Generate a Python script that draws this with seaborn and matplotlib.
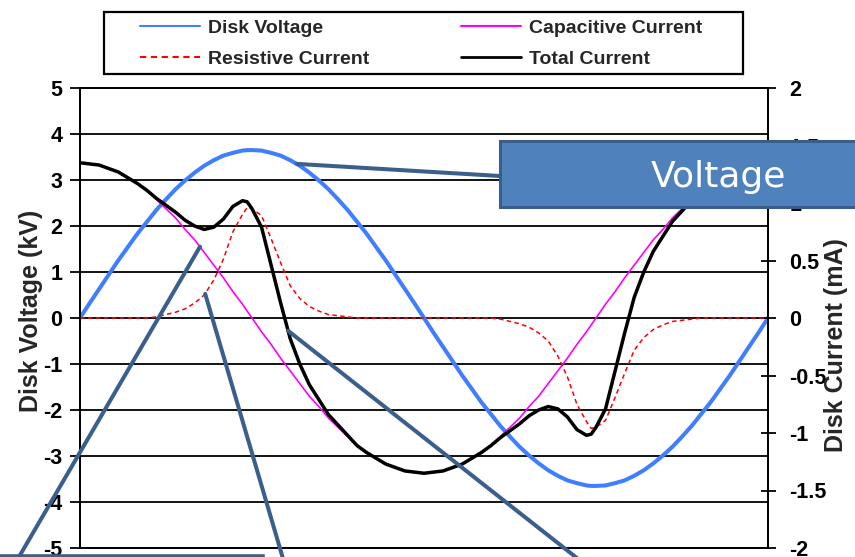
import matplotlib
matplotlib.use("Agg")
import matplotlib.pyplot as plt
import seaborn as sns
import pandas as pd
from matplotlib.patches import Rectangle, ConnectionPatch
from matplotlib.ticker import FixedLocator, FuncFormatter

# ---------------- data ----------------
phase_deg = [0, 5, 10, 15, 20, 25, 30, 35, 40, 45, 50, 55, 60, 65, 70, 75, 80, 85, 87.5,
             90, 95, 100, 105, 110, 115, 120, 125, 130, 135, 140, 145, 150, 155, 160, 165, 170, 175, 180,
             185, 190, 195, 200, 205, 210, 215, 220, 225, 230, 235, 240, 245, 250, 255, 260, 265, 267.5,
             270, 275, 280, 285, 290, 295, 300, 305, 310, 315, 320, 325, 330, 335, 340, 345, 350, 355, 360]

disk_voltage_kv = [0, 0.32, 0.63, 0.94, 1.25, 1.54, 1.83, 2.09, 2.35, 2.58, 2.80, 2.99, 3.16, 3.31, 3.43, 3.53, 3.59, 3.64, 3.65,
                   3.65, 3.64, 3.59, 3.53, 3.43, 3.31, 3.16, 2.99, 2.80, 2.58, 2.35, 2.09, 1.83, 1.54, 1.25, 0.94, 0.63, 0.32, 0,
                   -0.32, -0.63, -0.94, -1.25, -1.54, -1.83, -2.09, -2.35, -2.58, -2.80, -2.99, -3.16, -3.31, -3.43, -3.53, -3.59, -3.64, -3.65,
                   -3.65, -3.64, -3.59, -3.53, -3.43, -3.31, -3.16, -2.99, -2.80, -2.58, -2.35, -2.09, -1.83, -1.54, -1.25, -0.94, -0.63, -0.32, 0]

capacitive_ma = [1.35, 1.34, 1.33, 1.30, 1.27, 1.22, 1.17, 1.11, 1.03, 0.95, 0.87, 0.77, 0.68, 0.57, 0.46, 0.35, 0.23, 0.12, 0.06,
                 0, -0.12, -0.23, -0.35, -0.46, -0.57, -0.68, -0.77, -0.87, -0.95, -1.03, -1.11, -1.17, -1.22, -1.27, -1.30, -1.33, -1.34, -1.35,
                 -1.34, -1.33, -1.30, -1.27, -1.22, -1.17, -1.11, -1.03, -0.95, -0.87, -0.77, -0.68, -0.57, -0.46, -0.35, -0.23, -0.12, -0.06,
                 0, 0.12, 0.23, 0.35, 0.46, 0.57, 0.68, 0.77, 0.87, 0.95, 1.03, 1.11, 1.17, 1.22, 1.27, 1.30, 1.33, 1.34, 1.35]

resistive_ma = [0, 0, 0, 0, 0, 0, 0, 0, 0.01, 0.03, 0.05, 0.08, 0.13, 0.20, 0.33, 0.51, 0.75, 0.90, 0.96,
                0.95, 0.89, 0.69, 0.48, 0.28, 0.17, 0.10, 0.06, 0.03, 0.02, 0.01, 0, 0, 0, 0, 0, 0, 0, 0,
                0, 0, 0, 0, 0, 0, 0, -0.01, -0.03, -0.05, -0.08, -0.13, -0.20, -0.33, -0.51, -0.75, -0.90, -0.96,
                -0.95, -0.89, -0.69, -0.48, -0.28, -0.17, -0.10, -0.06, -0.03, -0.02, -0.01, 0, 0, 0, 0, 0, 0, 0, 0]

total_ma = [1.35, 1.34, 1.33, 1.30, 1.27, 1.22, 1.17, 1.11, 1.04, 0.98, 0.92, 0.85, 0.80, 0.77, 0.79, 0.86, 0.97, 1.02, 1.01,
            0.95, 0.79, 0.46, 0.13, -0.18, -0.40, -0.58, -0.71, -0.84, -0.93, -1.02, -1.11, -1.17, -1.22, -1.27, -1.30, -1.33, -1.34, -1.35,
            -1.34, -1.33, -1.30, -1.27, -1.22, -1.17, -1.11, -1.04, -0.98, -0.92, -0.85, -0.80, -0.77, -0.79, -0.86, -0.97, -1.02, -1.01,
            -0.95, -0.79, -0.46, -0.13, 0.18, 0.40, 0.58, 0.71, 0.84, 0.93, 1.02, 1.11, 1.17, 1.22, 1.27, 1.30, 1.33, 1.34, 1.35]

voltage_ticks = [-5, -4, -3, -2, -1, 0, 1, 2, 3, 4, 5]
current_ticks = [-2, -1.5, -1, -0.5, 0, 0.5, 1, 1.5, 2]
legend_labels = ["Disk Voltage", "Resistive Current", "Capacitive Current", "Total Current"]
voltage_axis_label = "Disk Voltage (kV)"
current_axis_label = "Disk Current (mA)"
callout_text = "Voltage"

# ---------------- style ----------------
sns.set_style("white")
plt.rcParams["font.family"] = ["Liberation Sans", "DejaVu Sans"]
plt.rcParams["axes.unicode_minus"] = False

W, H = 855, 557
fig = plt.figure(figsize=(W / 100, H / 100), dpi=100)


def fx(px):
    return px / W


def fy(py):
    return 1 - py / H


df = pd.DataFrame({
    "phase": phase_deg,
    "voltage": disk_voltage_kv,
    "capacitive": capacitive_ma,
    "resistive": resistive_ma,
    "total": total_ma,
})

ax = fig.add_axes([fx(80), fy(548), 688 / W, 460 / H])
ax2 = ax.twinx()

sns.lineplot(data=df, x="phase", y="voltage", ax=ax, color="#3E7EFF", linewidth=2.9,
             label=legend_labels[0], legend=False)
sns.lineplot(data=df, x="phase", y="capacitive", ax=ax2, color="#FF00FF", linewidth=1.2,
             label=legend_labels[2], legend=False)
sns.lineplot(data=df, x="phase", y="resistive", ax=ax2, color="#FF0000", linewidth=1.1,
             linestyle=(0, (3.0, 2.2)), label=legend_labels[1], legend=False)
sns.lineplot(data=df, x="phase", y="total", ax=ax2, color="black", linewidth=2.5,
             label=legend_labels[3], legend=False)
for ln in ax.lines + ax2.lines:
    ln.set_solid_joinstyle("round")

ax.set_xlim(0, 360)
ax.set_ylim(-5, 5)
ax2.set_ylim(-2, 2)
ax.set_xticks([])
ax2.set_xticks([])
ax.set_xlabel("")
ax2.set_xlabel("")

ax.yaxis.set_major_locator(FixedLocator(voltage_ticks))
ax2.yaxis.set_major_locator(FixedLocator(current_ticks))
ax.yaxis.set_major_formatter(FuncFormatter(lambda v, p: f"{v:g}"))
ax2.yaxis.set_major_formatter(FuncFormatter(lambda v, p: f"{v:g}"))

ax.yaxis.grid(True, color="black", linewidth=1.3)
ax.xaxis.grid(False)
ax2.grid(False)

for a in (ax, ax2):
    for s in a.spines.values():
        s.set_color("black")
        s.set_linewidth(1.3)
        s.set_visible(True)

ax.tick_params(axis="y", direction="out", length=7.2, width=1.3, pad=5.5,
               labelsize=15.5, colors="black", left=True)
ax2.tick_params(axis="y", direction="inout", length=10.8, width=1.3, pad=10.0,
                labelsize=15.5, colors="black", right=True)
for lab in ax.get_yticklabels() + ax2.get_yticklabels():
    lab.set_fontweight("bold")

ax.set_ylabel(voltage_axis_label, fontsize=18, fontweight="bold")
ax.yaxis.set_label_coords((43 - 80) / 688, (548 - 311) / 460)
ax2.set_ylabel(current_axis_label, fontsize=18, fontweight="bold")
ax2.yaxis.set_label_coords((824 - 80) / 688, (548 - 345) / 460)

# ---------------- legend ----------------
h_v = ax.lines[0]
h_c, h_r, h_t = ax2.lines[0], ax2.lines[1], ax2.lines[2]
fig.add_artist(Rectangle((fx(104), fy(74)), (743 - 104) / W, (74 - 12) / H,
                         transform=fig.transFigure, facecolor="white",
                         edgecolor="black", linewidth=1.6, zorder=2))
leg = fig.legend(handles=[h_v, h_r, h_c, h_t], labels=legend_labels, ncol=2,
                 loc="upper left", bbox_to_anchor=(fx(140), fy(19)),
                 frameon=False, borderaxespad=0, borderpad=0,
                 handlelength=3.1, handletextpad=0.4, columnspacing=4.7,
                 labelspacing=0.72, prop={"size": 14, "weight": "bold"})
leg.set_zorder(3)
for ln, lw in zip(leg.get_lines(), [1.5, 1.5, 1.5, 2.0]):
    ln.set_linewidth(lw)

# ---------------- callouts ----------------
conn_color = "#3B5F8C"
fig.add_artist(Rectangle((fx(-10), fy(620)), (263 + 10) / W, (620 - 556) / H,
                         transform=fig.transFigure, facecolor="white",
                         edgecolor=conn_color, linewidth=2.6, zorder=4))

callouts = [
    ((113.5, 3.35), ax, (500, 176)),
    ((62.8, 0.62), ax2, (16, 562)),
    ((65.5, 0.21), ax2, (284, 562)),
    ((108.8, -0.11), ax2, (582, 562)),
]
for (xa, ya), a, (px, py) in callouts:
    con = ConnectionPatch(xyA=(xa, ya), coordsA=a.transData,
                          xyB=(fx(px), fy(py)), coordsB=fig.transFigure,
                          color=conn_color, linewidth=2.9, zorder=4)
    fig.add_artist(con)

fig.add_artist(Rectangle((fx(500), fy(207)), (900 - 500) / W, (207 - 141) / H,
                         transform=fig.transFigure, facecolor="#4F81BD",
                         edgecolor="#3A5E8B", linewidth=2.2, zorder=5))
fig.text(fx(718.5), fy(187), callout_text, color="white", fontsize=26,
         family="DejaVu Sans", ha="center", va="baseline", zorder=6)

fig.savefig("out.png", dpi=100)
